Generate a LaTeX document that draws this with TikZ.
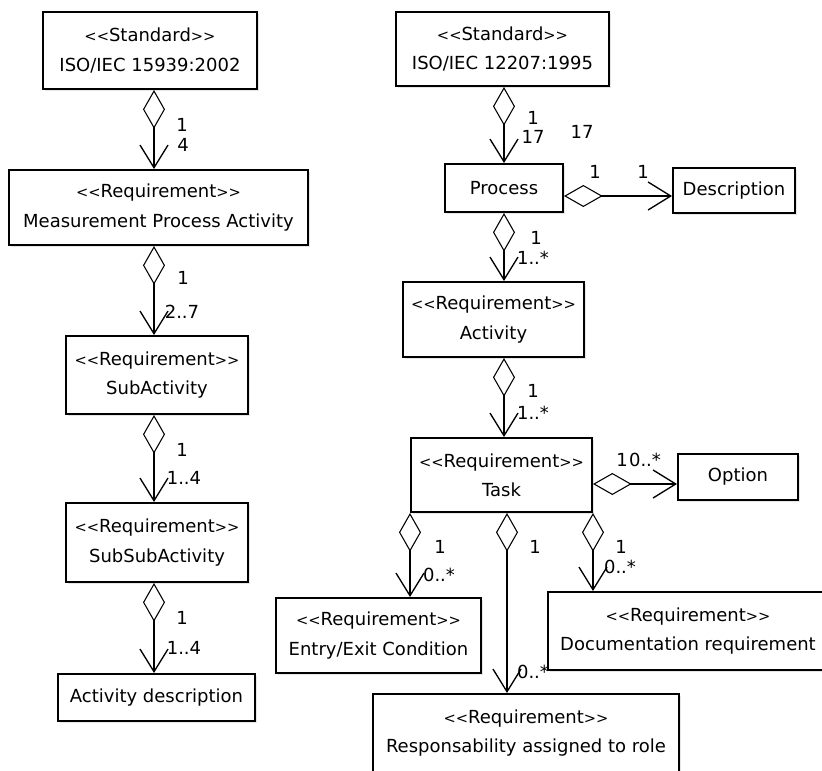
\documentclass[tikz,border=0pt]{standalone}
\usepackage{fontspec}
\setmainfont{DejaVu Sans}
\usetikzlibrary{arrows.meta,shadows}

\tikzset{every picture/.style={line width=0.75pt}}
\tikzset{
  umlbox/.style={draw, line width=1.5pt, fill=white, inner sep=0pt, align=center,
    font=\fontsize{13.5}{22}\selectfont,
    drop shadow={shadow xshift=1.2pt, shadow yshift=-1.2pt, opacity=.2}},
  aggr/.style={line width=1.1pt,
    {Diamond[open, length=29pt, width=16.5pt, line width=0.8pt]}-{Straight Barb[length=17pt, width=21pt, line width=1pt]}},
  mult/.style={inner sep=0pt, font=\fontsize{13.5}{16}\selectfont}
}
\newcommand{\stereo}[1]{{\fontsize{11}{22}\selectfont<{}<}#1{\fontsize{11}{22}\selectfont>{}>}}

\begin{document}
\begin{tikzpicture}[x=0.75pt,y=0.75pt,yscale=-1,xscale=1]
\useasboundingbox (0,0) rectangle (822,771);

%Shape: Rectangle [left column]
\node[umlbox, minimum width=160.5pt, minimum height=57.75pt] (std1) at (150,50.5) {\stereo{Standard}\\ISO/IEC 15939:2002};
\node[umlbox, minimum width=224.25pt, minimum height=56.25pt] (mpa) at (158.5,207.5) {\stereo{Requirement}\\Measurement Process Activity};
\node[umlbox, minimum width=136.5pt, minimum height=58.5pt] (sub) at (157,375) {\stereo{Requirement}\\SubActivity};
\node[umlbox, minimum width=136.5pt, minimum height=59.25pt] (subsub) at (157,542.5) {\stereo{Requirement}\\SubSubActivity};
\node[umlbox, minimum width=147.75pt, minimum height=35.25pt] (actdesc) at (156.5,697.5) {Activity description};

%Shape: Rectangle [right column]
\node[umlbox, minimum width=159.75pt, minimum height=55.5pt] (std2) at (502.5,49) {\stereo{Standard}\\ISO/IEC 12207:1995};
\node[umlbox, minimum width=88.5pt, minimum height=36pt] (process) at (504,188) {Process};
\node[umlbox, minimum width=91.5pt, minimum height=33.75pt] (desc) at (734,190.5) {Description};
\node[umlbox, minimum width=135.75pt, minimum height=56.25pt] (activity) at (493.5,319.5) {\stereo{Requirement}\\Activity};
\node[umlbox, minimum width=135.75pt, minimum height=55.5pt] (task) at (501.5,475) {\stereo{Requirement}\\Task};
\node[umlbox, minimum width=90pt, minimum height=34.5pt] (option) at (738,477) {Option};
\node[umlbox, minimum width=153.75pt, minimum height=56.25pt] (entry) at (378.5,635.5) {\stereo{Requirement}\\Entry/Exit Condition};
\node[umlbox, minimum width=210pt, minimum height=58.5pt] (doc) at (688,631) {\stereo{Requirement}\\Documentation requirement};
\node[umlbox, minimum width=229.5pt, minimum height=58.5pt] (resp) at (526,733) {\stereo{Requirement}\\Responsability assigned to role};

% Connection
\coordinate (lx) at (154,0);
\coordinate (rx) at (504,0);
\coordinate (mx) at (507,0);
\coordinate (py) at (0,196);
\coordinate (oy) at (0,484);
\draw[aggr] (std1.south -| lx) -- (mpa.north -| lx);
\draw[aggr] (mpa.south -| lx) -- (sub.north -| lx);
\draw[aggr] (sub.south -| lx) -- (subsub.north -| lx);
\draw[aggr] (subsub.south -| lx) -- (actdesc.north -| lx);
\draw[aggr] (std2.south -| rx) -- (process.north -| rx);
\draw[aggr] (process.east |- py) -- (desc.west |- py);
\draw[aggr] (process.south -| rx) -- (activity.north -| rx);
\draw[aggr] (activity.south -| rx) -- (task.north -| rx);
\draw[aggr] (task.east |- oy) -- (option.west |- oy);
\draw[aggr] (task.south west) -- (entry.north -| task.south west);
\draw[aggr] (task.south -| mx) -- (resp.north -| mx);
\draw[aggr] (task.south east) -- (doc.north -| task.south east);

% Text Node
\node[mult] (m1a) at (182,125) {1};
\node[mult] (m1b) at (183,145) {4};
\node[mult] (m2a) at (183,278) {1};
\node[mult] (m2b) at (182,312) {2..7};
\node[mult] (m3a) at (182,450) {1};
\node[mult] (m3b) at (184,478) {1..4};
\node[mult] (m4a) at (182,618) {1};
\node[mult] (m4b) at (184,648) {1..4};
\node[mult] (m5a) at (533,118) {1};
\node[mult] (m5b) at (533,137) {17};
\node[mult] (m5c) at (582,132) {17};
\node[mult] (m6a) at (595,172) {1};
\node[mult] (m6b) at (643,172) {1};
\node[mult] (m7a) at (536,238) {1};
\node[mult] (m7b) at (533,258) {1..*};
\node[mult] (m8a) at (533,391) {1};
\node[mult] (m8b) at (533,413) {1..*};
\node[mult] (m9a) at (622,460) {1};
\node[mult] (m9b) at (645,460) {0..*};
\node[mult] (m10a) at (440,547) {1};
\node[mult] (m10b) at (439,575) {0..*};
\node[mult] (m11a) at (535,547) {1};
\node[mult] (m11b) at (533,672) {0..*};
\node[mult] (m12a) at (621,547) {1};
\node[mult] (m12b) at (620,567) {0..*};

\end{tikzpicture}
\end{document}
